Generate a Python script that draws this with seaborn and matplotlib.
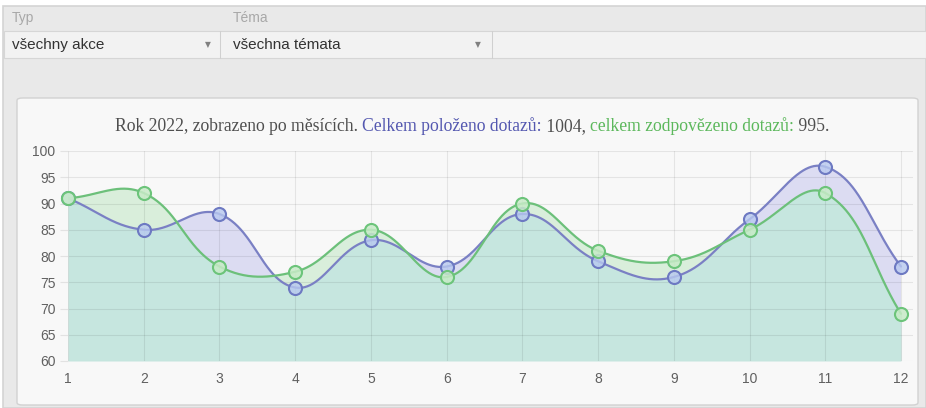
import numpy as np
import pandas as pd
import matplotlib
matplotlib.use("Agg")
import matplotlib.pyplot as plt
from matplotlib.patches import Rectangle, FancyBboxPatch
from matplotlib.lines import Line2D
import seaborn as sns

# ---------------- data ----------------
months = [1, 2, 3, 4, 5, 6, 7, 8, 9, 10, 11, 12]
month_labels = ["1", "2", "3", "4", "5", "6", "7", "8", "9", "10", "11", "12"]
asked = [91, 85, 88, 74, 83, 78, 88, 79, 76, 87, 97, 78]        # položeno
answered = [91, 92, 78, 77, 85, 76, 90, 81, 79, 85, 92, 69]     # zodpovězeno
y_ticks = [60, 65, 70, 75, 80, 85, 90, 95, 100]
title_parts = [
    ("Rok 2022, zobrazeno po měsících. ", "#4f4f4f"),
    ("Celkem položeno dotazů:", "#5458b0"),
    (" 1004, ", "#4f4f4f"),
    ("celkem zodpovězeno dotazů:", "#5cb85c"),
    (" 995.", "#4f4f4f"),
]
filter_labels = ["Typ", "Téma"]
filter_values = ["všechny akce", "všechna témata"]

sns.set_theme(style="white")
plt.rcParams["font.family"] = ["Liberation Sans", "DejaVu Sans"]

W, H = 926, 408
fig = plt.figure(figsize=(W / 100, H / 100), dpi=100)
fig.patch.set_facecolor("white")


def fx(x):
    return x / W


def fy(y):
    return 1 - y / H


def rect(x0, y0, x1, y1, **kw):
    r = Rectangle((fx(x0), fy(y1)), fx(x1) - fx(x0), fy(y0) - fy(y1),
                  transform=fig.transFigure, zorder=-10, **kw)
    fig.add_artist(r)
    return r


def vline(x, y0, y1, color, lw=0.75):
    fig.add_artist(Line2D([fx(x), fx(x)], [fy(y0), fy(y1)], transform=fig.transFigure,
                          color=color, lw=lw, zorder=-9))


# ---------------- page chrome ----------------
rect(3, 6, 926, 408, facecolor="#e9e9e9", edgecolor="#d4d4d4", lw=1.2)
rect(4, 31, 926, 58, facecolor="#f2f2f2", edgecolor="#d6d6d6", lw=0.8)
vline(220, 31, 58, "#d0d0d0")
vline(492, 31, 58, "#d0d0d0")
for lab, val, x, ax_x in zip(filter_labels, filter_values, [12, 233], [208, 478]):
    fig.text(fx(x), fy(18), lab, color="#a8a8a8", fontsize=10, va="center", ha="left")
    fig.text(fx(x), fy(45), val, color="#333333", fontsize=11, va="center", ha="left")
    fig.text(fx(ax_x), fy(45), "▼", color="#808080", fontsize=5.5, va="center",
             ha="center", family=["DejaVu Sans"])

panel = FancyBboxPatch((fx(17), fy(405)), fx(918) - fx(17), fy(98) - fy(405),
                       boxstyle="round,pad=0,rounding_size=0.006",
                       transform=fig.transFigure, facecolor="#f8f8f8",
                       edgecolor="#d2d2d2", lw=1.0, zorder=-8)
fig.add_artist(panel)

# ---------------- axes ----------------
ax_l, ax_r, ax_t, ax_b = 68, 913, 151, 361
ax = fig.add_axes([fx(ax_l), fy(ax_b), fx(ax_r) - fx(ax_l), fy(ax_t) - fy(ax_b)])
ax.patch.set_alpha(0)
xmin, xmax = 1, 12 + 12 / 75.73
ax.set_xlim(xmin, xmax)
ax.set_ylim(60, 100)

# pixel scale for Chart.js-style spline (tension 0.4)
sx = (901 - 68) / 11.0
sy = (ax_b - ax_t) / 40.0


def chartjs_spline(xs, ys, tension=0.4, n=80):
    P = np.column_stack([np.asarray(xs, float) * sx, np.asarray(ys, float) * sy])
    N = len(P)
    cprev = np.zeros_like(P)
    cnext = np.zeros_like(P)
    for i in range(N):
        p0 = P[max(i - 1, 0)]
        p1 = P[i]
        p2 = P[min(i + 1, N - 1)]
        d01 = np.hypot(*(p1 - p0))
        d12 = np.hypot(*(p2 - p1))
        tot = d01 + d12
        s01 = d01 / tot if tot else 0
        s12 = d12 / tot if tot else 0
        cprev[i] = p1 - tension * s01 * (p2 - p0)
        cnext[i] = p1 + tension * s12 * (p2 - p0)
    t = np.linspace(0, 1, n)[:, None]
    segs = []
    for i in range(N - 1):
        b = ((1 - t) ** 3 * P[i] + 3 * (1 - t) ** 2 * t * cnext[i]
             + 3 * (1 - t) * t ** 2 * cprev[i + 1] + t ** 3 * P[i + 1])
        segs.append(b if i == 0 else b[1:])
    C = np.vstack(segs)
    return C[:, 0] / sx, C[:, 1] / sy


bx, by = chartjs_spline(months, asked)
gx, gy = chartjs_spline(months, answered)
xg = np.linspace(1, 12, 3000)
bi = np.interp(xg, bx, by)
gi = np.interp(xg, gx, gy)

ax.fill_between(xg, 60, np.minimum(bi, gi), color="#c6e6df", lw=0, zorder=1)
ax.fill_between(xg, gi, bi, where=bi >= gi, interpolate=True, color="#dcdcf2", lw=0, zorder=1)
ax.fill_between(xg, bi, gi, where=gi >= bi, interpolate=True, color="#d9eedb", lw=0, zorder=1)

df_b = pd.DataFrame({"x": bx, "y": by})
df_g = pd.DataFrame({"x": gx, "y": gy})
sns.lineplot(data=df_b, x="x", y="y", sort=False, estimator=None, color="#7a80c4",
             lw=1.6, ax=ax, zorder=3)
sns.lineplot(data=df_g, x="x", y="y", sort=False, estimator=None, color="#6cc07a",
             lw=1.6, ax=ax, zorder=4)

pts = pd.DataFrame({"month": months, "asked": asked, "answered": answered})
sns.scatterplot(data=pts, x="month", y="asked", s=88, color=(0.72, 0.79, 0.94, 0.8),
                edgecolor="#6d79c2", linewidth=1.5, ax=ax, zorder=5, clip_on=False)
sns.scatterplot(data=pts, x="month", y="answered", s=88, color=(0.78, 0.92, 0.78, 0.85),
                edgecolor="#6cc47a", linewidth=1.5, ax=ax, zorder=6, clip_on=False)

ax.set_xticks(months, month_labels)
ax.set_yticks(y_ticks)
ax.set_xlabel("")
ax.set_ylabel("")
ax.set_axisbelow("line")
ax.grid(True, color="black", alpha=0.08, lw=0.8)
ax.tick_params(axis="y", length=6, width=0.8, color="#e2e2e2", pad=3,
               labelcolor="#606060", labelsize=10, left=True)
ax.tick_params(axis="x", length=0, pad=8, labelcolor="#606060", labelsize=10)
for s in ax.spines.values():
    s.set_visible(False)

# ---------------- title (multi-colour) ----------------
tfs = 12.7
first = fig.text(fx(113), fy(131), title_parts[0][0], color=title_parts[0][1],
                 fontsize=tfs, family=["Liberation Serif", "DejaVu Serif"], va="baseline", ha="left")
prev = first
texts = [first]
for s, c in title_parts[1:]:
    prev = ax.annotate(
        s, xy=(1, 0), xycoords=prev, va="bottom", ha="left", color=c, fontsize=tfs,
        family=["Liberation Serif", "DejaVu Serif"], annotation_clip=False)
    texts.append(prev)

fig.canvas.draw()
r = fig.canvas.get_renderer()
x0 = texts[0].get_window_extent(r).x0
x1 = texts[-1].get_window_extent(r).x1
width = x1 - x0
center = 472
first.set_x(fx(center - width / 2))

fig.savefig("out.png", dpi=100, facecolor=fig.get_facecolor())
